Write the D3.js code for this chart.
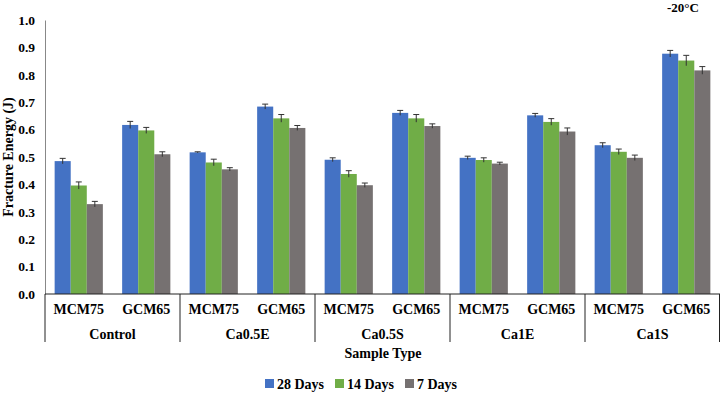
<!DOCTYPE html>
<html lang="en">
<head>
    <meta charset="UTF-8"/>
    <title>Fracture Energy -20°C</title>
    <script src="https://d3js.org/d3.v7.min.js"></script>
    <style>
        body { margin: 0; background: #fff; }
        svg text { font-family: "Liberation Serif", "DejaVu Serif", serif !important; font-weight: bold; fill: #000; }
    </style>
</head>
<body>
    <script>
        var w = 720;
        var h = 393;

        // data
        var groups = ["Control", "Ca0.5E", "Ca0.5S", "Ca1E", "Ca1S"];
        var samples = ["MCM75", "GCM65"];
        var series = ["28 Days", "14 Days", "7 Days"];
        var colors = ["#4472C4", "#70AD47", "#767171"];

        var days28 = [0.485, 0.617, 0.517, 0.684, 0.490, 0.661, 0.497, 0.652, 0.543, 0.877];
        var days14 = [0.396, 0.597, 0.480, 0.641, 0.438, 0.641, 0.489, 0.628, 0.519, 0.852];
        var days7  = [0.328, 0.510, 0.455, 0.606, 0.397, 0.613, 0.476, 0.593, 0.497, 0.816];

        var err28 = [0.010, 0.013, 0.002, 0.009, 0.007, 0.009, 0.006, 0.007, 0.009, 0.012];
        var err14 = [0.013, 0.011, 0.012, 0.014, 0.012, 0.014, 0.008, 0.012, 0.010, 0.019];
        var err7  = [0.010, 0.009, 0.006, 0.009, 0.008, 0.008, 0.005, 0.013, 0.010, 0.014];

        var yTicks = [0, 0.1, 0.2, 0.3, 0.4, 0.5, 0.6, 0.7, 0.8, 0.9, 1.0];

        var values = [days28, days14, days7];
        var errors = [err28, err14, err7];

        // one key per group/sample pair
        var keys = [];
        groups.forEach(function(g) {
            samples.forEach(function(s) { keys.push(g + "|" + s); });
        });

        var padLeft = 45, padRight = 720, padTop = 20, padBottom = 294;

        var xScale = d3.scaleBand()
            .domain(keys)
            .range([padLeft, padRight])
            .padding(0);

        var xInner = d3.scaleBand()
            .domain(series)
            .range([0, xScale.bandwidth()])
            .paddingInner(0)
            .paddingOuter(0.6);

        var yScale = d3.scaleLinear()
            .domain([0, 1])
            .range([padBottom, padTop]);

        var svg = d3.select("body")
            .append("svg")
            .attr("width", w)
            .attr("height", h)
            .attr("font-family", "Liberation Serif, serif")
            .attr("font-weight", "bold");

        // bars
        var rows = [];
        series.forEach(function(s, si) {
            keys.forEach(function(k, ki) {
                rows.push({ key: k, s: s, si: si, v: values[si][ki], e: errors[si][ki] });
            });
        });

        function barMid(d) {
            return xScale(d.key) + xInner(d.s) + xInner.bandwidth() / 2;
        }

        svg.selectAll("rect.bar")
            .data(rows)
            .enter()
            .append("rect")
            .attr("class", "bar")
            .attr("x", function(d) { return xScale(d.key) + xInner(d.s); })
            .attr("y", function(d) { return yScale(d.v); })
            .attr("width", xInner.bandwidth())
            .attr("height", function(d) { return yScale(0) - yScale(d.v); })
            .attr("fill", function(d) { return colors[d.si]; });

        // error bars
        var eb = svg.selectAll("g.err")
            .data(rows)
            .enter()
            .append("g")
            .attr("class", "err")
            .attr("stroke", "#333")
            .attr("stroke-width", 1);

        eb.append("line")
            .attr("x1", barMid)
            .attr("x2", barMid)
            .attr("y1", function(d) { return yScale(d.v - d.e); })
            .attr("y2", function(d) { return yScale(d.v + d.e); });

        eb.append("line")
            .attr("x1", function(d) { return barMid(d) - 3; })
            .attr("x2", function(d) { return barMid(d) + 3; })
            .attr("y1", function(d) { return yScale(d.v + d.e); })
            .attr("y2", function(d) { return yScale(d.v + d.e); });

        // y axis
        var yAxis = d3.axisLeft(yScale)
            .tickValues(yTicks)
            .tickSize(0)
            .tickPadding(10)
            .tickFormat(d3.format(".1f"));

        var gy = svg.append("g")
            .attr("transform", "translate(" + padLeft + ",0)")
            .call(yAxis)
            .attr("font-family", null)
            .attr("font-size", "13.5px");
        gy.select(".domain").attr("stroke", "#888");

        // category axis
        svg.append("line")
            .attr("x1", padLeft).attr("x2", padRight)
            .attr("y1", padBottom).attr("y2", padBottom)
            .attr("stroke", "#222");

        var sepX = groups.map(function(g) { return xScale(g + "|" + samples[0]); });
        sepX.push(padRight - 0.5);
        svg.selectAll("line.sep")
            .data(sepX)
            .enter()
            .append("line")
            .attr("class", "sep")
            .attr("x1", function(d) { return d; })
            .attr("x2", function(d) { return d; })
            .attr("y1", padBottom)
            .attr("y2", 342)
            .attr("stroke", "#222");

        svg.selectAll("text.sample")
            .data(keys)
            .enter()
            .append("text")
            .attr("class", "sample")
            .attr("x", function(d) { return xScale(d) + xScale.bandwidth() / 2; })
            .attr("y", 314)
            .attr("text-anchor", "middle")
            .attr("font-size", "14px")
            .text(function(d) { return d.split("|")[1]; });

        svg.selectAll("text.group")
            .data(groups)
            .enter()
            .append("text")
            .attr("class", "group")
            .attr("x", function(d) { return xScale(d + "|" + samples[0]) + xScale.bandwidth(); })
            .attr("y", 339)
            .attr("text-anchor", "middle")
            .attr("font-size", "14px")
            .text(function(d) { return d; });

        svg.append("text")
            .attr("x", 383)
            .attr("y", 358)
            .attr("text-anchor", "middle")
            .attr("font-size", "14px")
            .text("Sample Type");

        svg.append("text")
            .attr("transform", "translate(13," + ((padTop + padBottom) / 2) + ") rotate(-90)")
            .attr("text-anchor", "middle")
            .attr("font-size", "14px")
            .text("Fracture Energy (J)");

        svg.append("text")
            .attr("x", 683)
            .attr("y", 12)
            .attr("text-anchor", "middle")
            .attr("font-size", "13px")
            .text("-20°C");

        // legend
        var legX = [265, 335, 405];
        var leg = svg.selectAll("g.leg")
            .data(series)
            .enter()
            .append("g")
            .attr("class", "leg")
            .attr("transform", function(d, i) { return "translate(" + legX[i] + ",384)"; });

        leg.append("rect")
            .attr("x", 0).attr("y", -5)
            .attr("width", 9).attr("height", 9)
            .attr("fill", function(d, i) { return colors[i]; });

        leg.append("text")
            .attr("x", 12)
            .attr("y", 4.5)
            .attr("font-size", "14px")
            .text(function(d) { return d; });
    </script>
</body>
</html>
